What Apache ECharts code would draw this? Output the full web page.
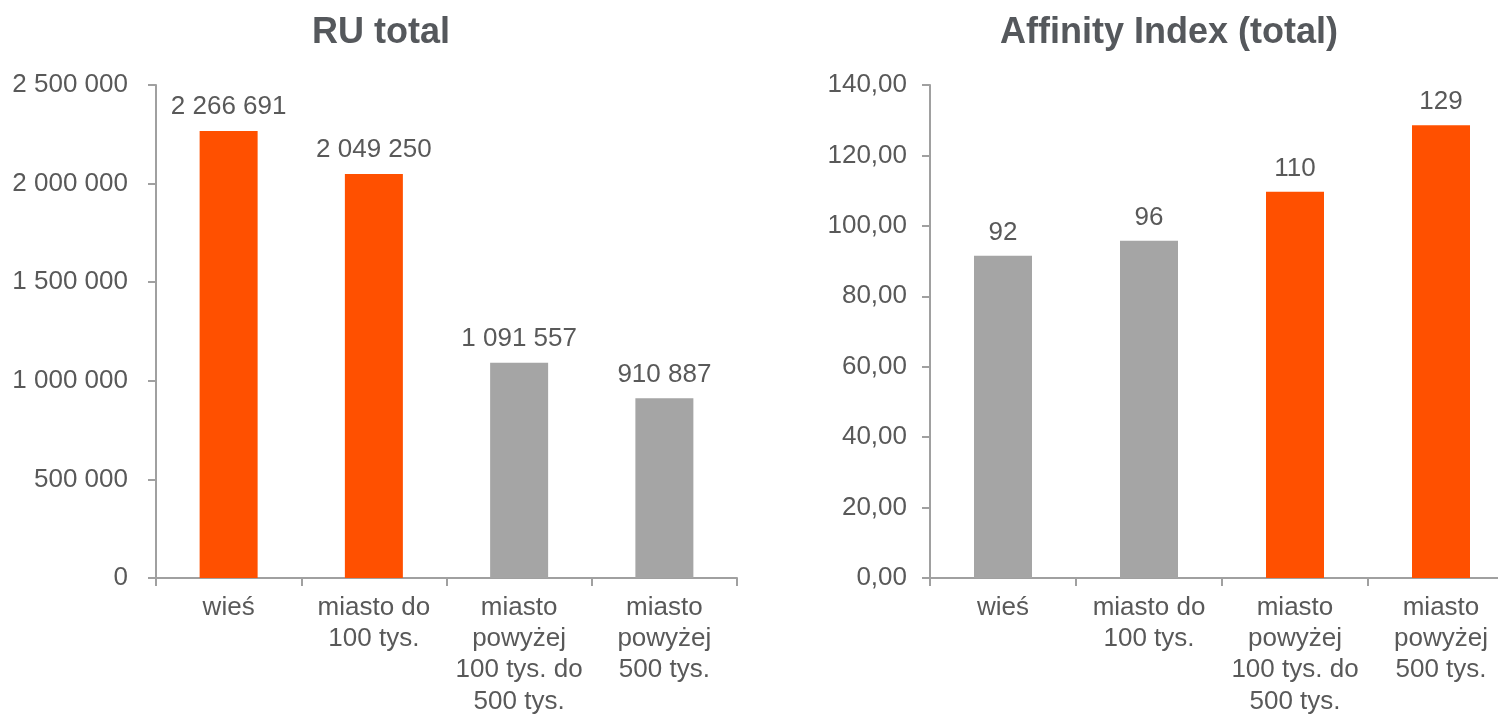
<!DOCTYPE html>
<html>
<head>
<meta charset="utf-8">
<script src="https://cdn.jsdelivr.net/npm/echarts@6/dist/echarts.min.js"></script>
<style>
html,body{margin:0;padding:0;background:#fff;}
#chart{width:1498px;height:715px;}
</style>
</head>
<body>
<div id="chart"></div>
<script>
const categories = ['wieś', 'miasto do\n100 tys.', 'miasto\npowyżej\n100 tys. do\n500 tys.', 'miasto\npowyżej\n500 tys.'];
const ruTotal = [2266691, 2049250, 1091557, 910887];
const affinity = [91.5, 95.8, 109.7, 128.6];
const ruColors = ['#FF5000', '#FF5000', '#A5A5A5', '#A5A5A5'];
const affColors = ['#A5A5A5', '#A5A5A5', '#FF5000', '#FF5000'];
const titles = ['RU total', 'Affinity Index (total)'];

const FONT = '"Liberation Sans", Arial, sans-serif';
const TXT = '#595959';
const AXIS = '#A0A0A0';

function spaced(v) {
  return String(Math.round(v)).replace(/\B(?=(\d{3})+(?!\d))/g, ' ');
}

const chart = echarts.init(document.getElementById('chart'));
const axisCommon = {
  axisLine: { show: true, lineStyle: { color: AXIS, width: 2 } },
  axisTick: { show: true, length: 8, lineStyle: { color: AXIS, width: 2 } },
  splitLine: { show: false }
};

chart.setOption({
  animation: false,
  backgroundColor: '#fff',
  title: [
    { text: titles[0], left: 307, top: 10, padding: 5, textStyle: { fontFamily: FONT, fontSize: 36, fontWeight: 'bold', color: '#55585C' } },
    { text: titles[1], left: 995, top: 10, padding: 5, textStyle: { fontFamily: FONT, fontSize: 36, fontWeight: 'bold', color: '#55585C' } }
  ],
  grid: [
    { left: 156, top: 85, width: 581, height: 493, containLabel: false, outerBoundsMode: 'none' },
    { left: 930, top: 85, width: 584, height: 493, containLabel: false, outerBoundsMode: 'none' }
  ],
  xAxis: [0, 1].map(i => Object.assign({}, axisCommon, {
    type: 'category',
    gridIndex: i,
    data: categories,
    axisTick: { show: true, length: 8, alignWithLabel: false, lineStyle: { color: AXIS, width: 2 } },
    axisLabel: { interval: 0, fontFamily: FONT, fontSize: 26, color: TXT, lineHeight: 31.3, margin: 14, align: 'center', verticalAlign: 'top' }
  })),
  yAxis: [
    Object.assign({}, axisCommon, {
      type: 'value', gridIndex: 0, min: 0, max: 2500000, interval: 500000,
      axisLabel: { fontFamily: FONT, fontSize: 26, color: TXT, margin: 28, formatter: v => spaced(v) }
    }),
    Object.assign({}, axisCommon, {
      type: 'value', gridIndex: 1, min: 0, max: 140, interval: 20,
      axisLabel: { fontFamily: FONT, fontSize: 26, color: TXT, margin: 23, formatter: v => v.toFixed(2).replace('.', ',') }
    })
  ],
  series: [
    {
      type: 'bar', xAxisIndex: 0, yAxisIndex: 0, barWidth: 58,
      data: ruTotal.map((v, i) => ({ value: v, itemStyle: { color: ruColors[i] } })),
      label: { show: true, position: 'top', distance: 11, fontFamily: FONT, fontSize: 26, color: TXT, formatter: p => spaced(p.value) }
    },
    {
      type: 'bar', xAxisIndex: 1, yAxisIndex: 1, barWidth: 58,
      data: affinity.map((v, i) => ({ value: v, itemStyle: { color: affColors[i] } })),
      label: { show: true, position: 'top', distance: 10, fontFamily: FONT, fontSize: 26, color: TXT, formatter: p => String(Math.round(p.value)) }
    }
  ]
});
</script>
</body>
</html>
